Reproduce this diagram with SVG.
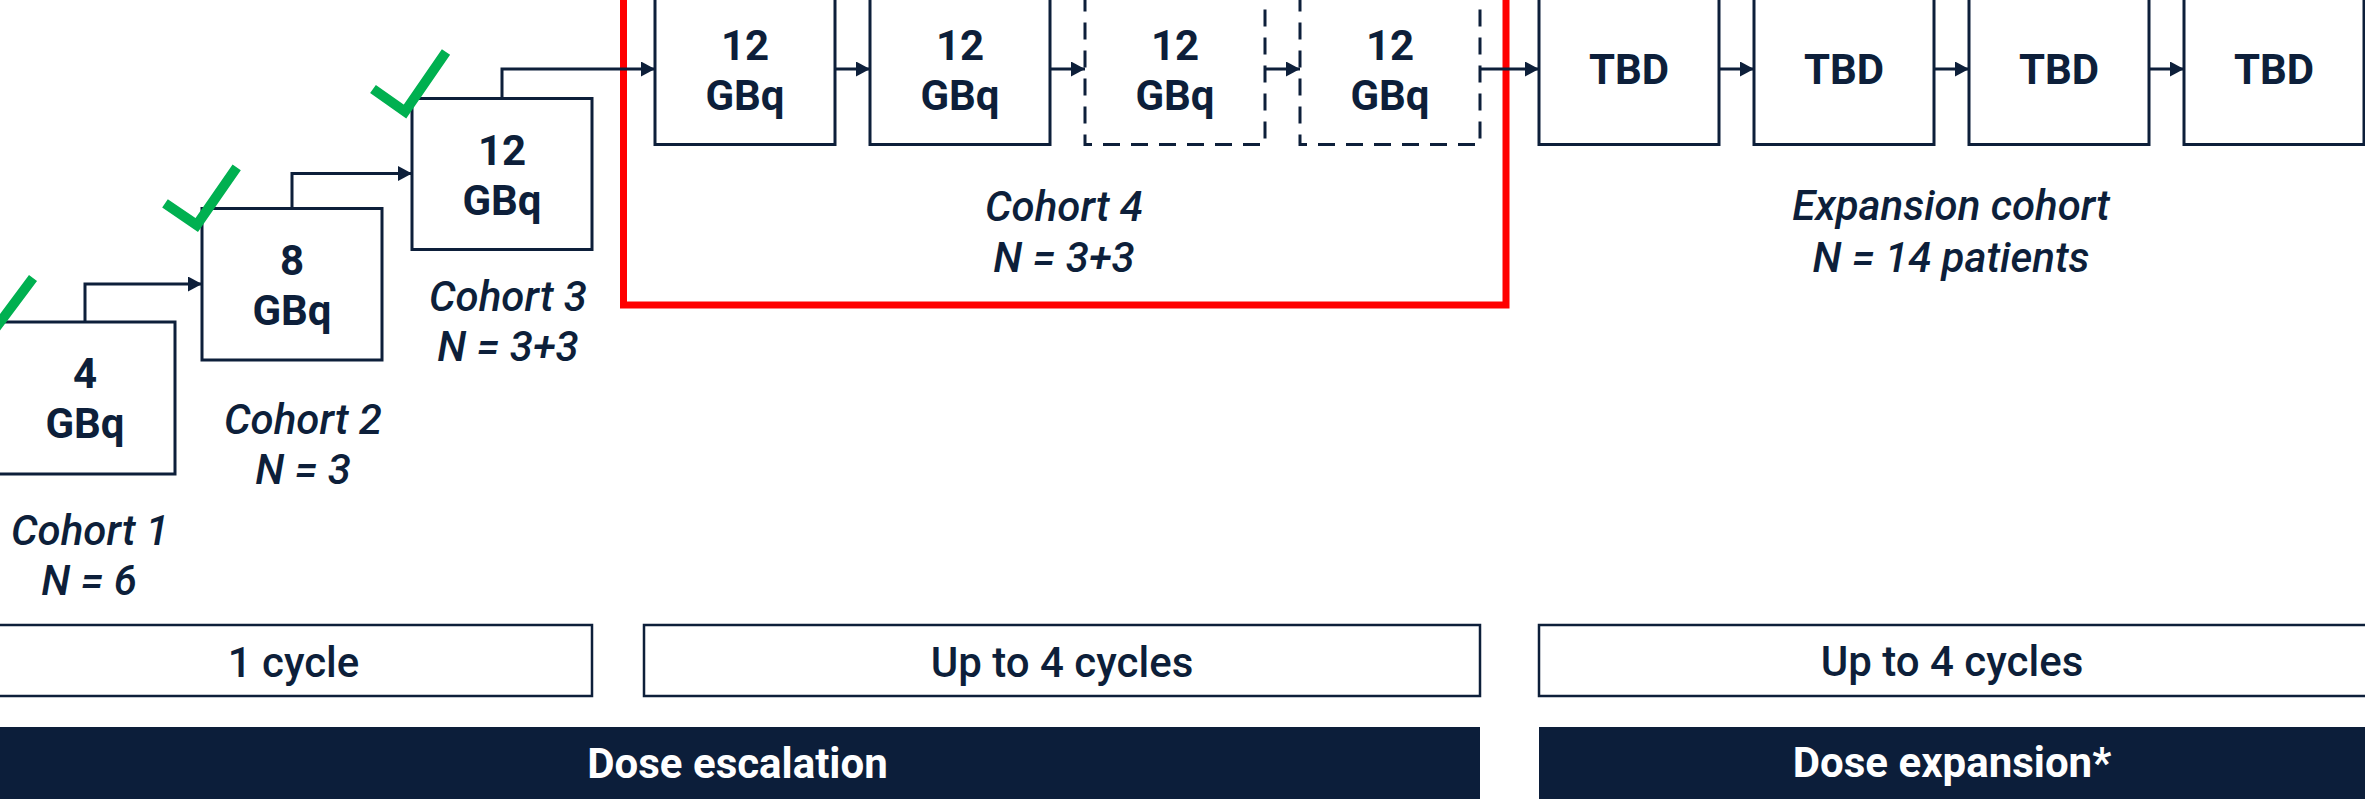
<svg xmlns="http://www.w3.org/2000/svg" width="2365" height="809" viewBox="0 0 2365 809">
<style>
.box{fill:#fff;stroke:#0d1f3a;stroke-width:3}
.dash{fill:#fff;stroke:#0d1f3a;stroke-width:3;stroke-dasharray:17 11}
.bar{fill:#fff;stroke:#0d1f3a;stroke-width:2.5}
.dark{fill:#0c1e3a}
.b{font-family:Roboto,"Liberation Sans",sans-serif;font-weight:700;font-size:42px;fill:#0d1f3a;text-anchor:middle}
.i{font-family:Roboto,"Liberation Sans",sans-serif;font-style:italic;font-weight:500;font-size:42px;fill:#0d1f3a;text-anchor:middle}
.r{font-family:Roboto,"Liberation Sans",sans-serif;font-weight:500;font-size:42px;fill:#0d1f3a;text-anchor:middle}
.w{font-family:Roboto,"Liberation Sans",sans-serif;font-weight:700;font-size:42px;fill:#fff;text-anchor:middle}
.chk{fill:none;stroke:#00b050;stroke-width:10}
.con{fill:none;stroke:#0d1f3a;stroke-width:3;marker-end:url(#ah)}
</style>
<defs>
<marker id="ah" markerUnits="userSpaceOnUse" markerWidth="14" markerHeight="15" refX="14" refY="7.5" orient="auto">
<path d="M0,0 L14,7.5 L0,15 Z" fill="#0d1f3a"/>
</marker>
</defs>
<rect width="2365" height="809" fill="#fff"/>

<g id="cohort4-frame"><rect x="623.5" y="-20" width="882.5" height="325" fill="none" stroke="#ff0000" stroke-width="7"/></g>

<g id="connectors">
<path class="con" d="M85,322 V284 H202"/>
<path class="con" d="M292,208.5 V173.5 H412"/>
<path class="con" d="M502,98.5 V69 H655"/>
<path class="con" d="M835,69 H870"/>
<path class="con" d="M1050,69 H1085"/>
<path class="con" d="M1265,69 H1300"/>
<path class="con" d="M1480,69 H1539"/>
<path class="con" d="M1719,69 H1754"/>
<path class="con" d="M1934,69 H1969"/>
<path class="con" d="M2149,69 H2184"/>
</g>

<g id="c1">
<rect class="box" x="-5" y="322" width="180" height="152"/>
<text class="b" x="85" y="388">4</text><text class="b" x="85" y="438">GBq</text>
<polyline class="chk" points="-43,315 -11,337 33,278"/>
<text class="i" x="90" y="545">Cohort 1</text><text class="i" x="89" y="595">N = 6</text>
</g>
<g id="c2">
<rect class="box" x="202" y="208.5" width="180" height="151.5"/>
<text class="b" x="292" y="274.5">8</text><text class="b" x="292" y="324.5">GBq</text>
<polyline class="chk" points="165,203.3 196.7,225 236.7,167.3"/>
<text class="i" x="303" y="434">Cohort 2</text><text class="i" x="303" y="484">N = 3</text>
</g>
<g id="c3">
<rect class="box" x="412" y="98.5" width="180" height="151"/>
<text class="b" x="502" y="164.5">12</text><text class="b" x="502" y="214.5">GBq</text>
<polyline class="chk" points="373,89 405,111.5 446,52"/>
<text class="i" x="508" y="311">Cohort 3</text><text class="i" x="508" y="361">N = 3+3</text>
</g>
<g id="c4a"><rect class="box" x="655" y="-6.5" width="180" height="151"/>
<text class="b" x="745" y="60">12</text><text class="b" x="745" y="110">GBq</text></g>
<g id="c4b"><rect class="box" x="870" y="-6.5" width="180" height="151"/>
<text class="b" x="960" y="60">12</text><text class="b" x="960" y="110">GBq</text></g>
<g id="c4c"><rect class="dash" x="1085" y="-6.5" width="180" height="151"/>
<text class="b" x="1175" y="60">12</text><text class="b" x="1175" y="110">GBq</text></g>
<g id="c4d"><rect class="dash" x="1300" y="-6.5" width="180" height="151"/>
<text class="b" x="1390" y="60">12</text><text class="b" x="1390" y="110">GBq</text></g>
<g id="c4-label"><text class="i" x="1064" y="221">Cohort 4</text><text class="i" x="1064" y="272">N = 3+3</text></g>

<g id="e1"><rect class="box" x="1539" y="-6.5" width="180" height="151"/><text class="b" x="1629" y="83.5">TBD</text></g>
<g id="e2"><rect class="box" x="1754" y="-6.5" width="180" height="151"/><text class="b" x="1844" y="83.5">TBD</text></g>
<g id="e3"><rect class="box" x="1969" y="-6.5" width="180" height="151"/><text class="b" x="2059" y="83.5">TBD</text></g>
<g id="e4"><rect class="box" x="2184" y="-6.5" width="180" height="151"/><text class="b" x="2274" y="83.5">TBD</text></g>
<g id="e-label"><text class="i" x="1951" y="220">Expansion cohort</text><text class="i" x="1951" y="272">N = 14 patients</text></g>

<g id="cyc1"><rect class="bar" x="-5" y="625" width="597" height="71"/><text class="r" x="293.5" y="677">1 cycle</text></g>
<g id="cyc2"><rect class="bar" x="644" y="625" width="836" height="71"/><text class="r" x="1062" y="677">Up to 4 cycles</text></g>
<g id="cyc3"><rect class="bar" x="1539" y="625" width="830" height="71"/><text class="r" x="1952" y="676">Up to 4 cycles</text></g>
<g id="esc"><rect class="dark" x="-5" y="727" width="1485" height="72"/><text class="w" x="737.5" y="778">Dose escalation</text></g>
<g id="exp"><rect class="dark" x="1539" y="727" width="830" height="72"/><text class="w" x="1952" y="777">Dose expansion*</text></g>
</svg>
